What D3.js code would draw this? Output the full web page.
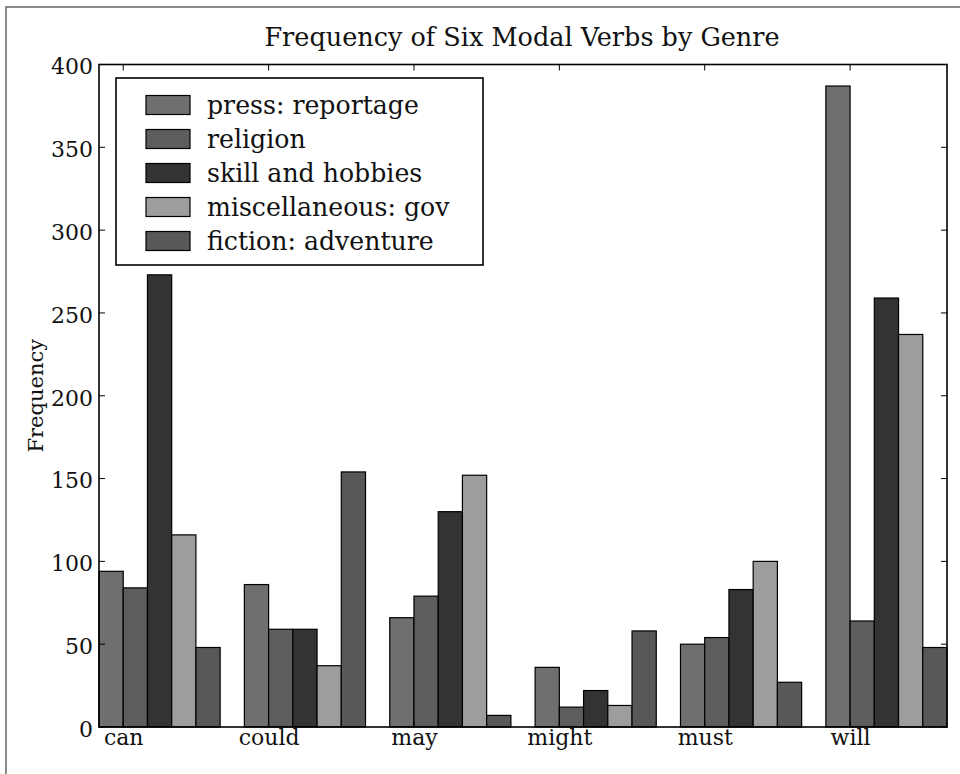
<!DOCTYPE html>
<html>
<head>
<meta charset="utf-8">
<script src="https://cdn.jsdelivr.net/npm/d3@7"></script>
<style>
  html, body { margin: 0; padding: 0; background: #fff; }
  svg { display: block; }
  text { font-family: "DejaVu Serif", serif; fill: #111; }
</style>
</head>
<body>
<div id="chart"></div>
<script>
// ---- data ----
const modals = ["can", "could", "may", "might", "must", "will"];
const genres = ["press: reportage", "religion", "skill and hobbies", "miscellaneous: gov", "fiction: adventure"];
const press    = [94, 86, 66, 36, 50, 387];
const religion = [84, 59, 79, 12, 54, 64];
const hobbies  = [273, 59, 130, 22, 83, 259];
const gov      = [116, 37, 152, 13, 100, 237];
const fiction  = [48, 154, 7, 58, 27, 48];
const yTicks   = [0, 50, 100, 150, 200, 250, 300, 350, 400];
const title    = "Frequency of Six Modal Verbs by Genre";
const yLabel   = "Frequency";

const series = [press, religion, hobbies, gov, fiction];
const colors = ["#6f6f6f", "#5d5d5d", "#333333", "#9d9d9d", "#585858"];

// ---- layout ----
const W = 960, H = 774;
const pLeft = 99, pRight = 947, pTop = 64.5, pBottom = 727;
const barW = 1 / (genres.length + 1);

const svg = d3.select("#chart").append("svg").attr("width", W).attr("height", H);

// figure border
svg.append("rect").attr("x", 6).attr("y", 7).attr("width", W + 10).attr("height", H + 10)
  .attr("fill", "none").attr("stroke", "#666").attr("stroke-width", 1.5);

const x = d3.scaleLinear().domain([0, modals.length - 1 + genres.length * barW]).range([pLeft, pRight]);
const y = d3.scaleLinear().domain([0, 400]).range([pBottom, pTop]);

// bars
series.forEach((vals, j) => {
  svg.append("g").selectAll("rect").data(vals).join("rect")
    .attr("x", (d, i) => x(i + j * barW))
    .attr("width", x(barW) - x(0))
    .attr("y", d => y(d))
    .attr("height", d => y(0) - y(d))
    .attr("fill", colors[j])
    .attr("stroke", "#000").attr("stroke-width", 1.2);
});

// axes (ticks inward)
const tickLen = 6;
const yAxisL = d3.axisLeft(y).tickValues(yTicks).tickSize(0).tickPadding(6);
const gL = svg.append("g").attr("transform", `translate(${pLeft},0)`).call(yAxisL);
gL.select(".domain").remove();
gL.selectAll("text").style("font-size", "22px").style("font-family", "DejaVu Serif").attr("dy", "0.42em");

const tickPos = modals.map((m, i) => i + barW);
const gT = svg.append("g");
gT.selectAll("line.yl").data(yTicks).join("line").attr("class", "yl")
  .attr("x1", pLeft).attr("x2", pLeft + tickLen).attr("y1", d => y(d)).attr("y2", d => y(d))
  .attr("stroke", "#000").attr("stroke-width", 1);
gT.selectAll("line.yr").data(yTicks).join("line").attr("class", "yr")
  .attr("x1", pRight).attr("x2", pRight - tickLen).attr("y1", d => y(d)).attr("y2", d => y(d))
  .attr("stroke", "#000").attr("stroke-width", 1);
gT.selectAll("line.xt").data(tickPos).join("line").attr("class", "xt")
  .attr("x1", d => x(d)).attr("x2", d => x(d)).attr("y1", pTop).attr("y2", pTop + tickLen)
  .attr("stroke", "#000").attr("stroke-width", 1);
gT.selectAll("line.xb").data(tickPos).join("line").attr("class", "xb")
  .attr("x1", d => x(d)).attr("x2", d => x(d)).attr("y1", pBottom).attr("y2", pBottom - tickLen)
  .attr("stroke", "#000").attr("stroke-width", 1);

// x tick labels
const xAxis = d3.axisBottom(x).tickValues(tickPos).tickFormat((d, i) => modals[i]).tickSize(0).tickPadding(6);
const gB = svg.append("g").attr("transform", `translate(0,${pBottom})`).call(xAxis);
gB.select(".domain").remove();
gB.selectAll("text").style("font-size", "22px").style("font-family", "DejaVu Serif").attr("dy", "0.55em");

// spines
svg.append("rect").attr("x", pLeft).attr("y", pTop).attr("width", pRight - pLeft).attr("height", pBottom - pTop)
  .attr("fill", "none").attr("stroke", "#000").attr("stroke-width", 1.6);

// title
svg.append("text").attr("x", (pLeft + pRight) / 2 - 1).attr("y", 46).attr("text-anchor", "middle")
  .style("font-size", "25.5px").text(title);

// y label
svg.append("text").attr("transform", `translate(43,${(pTop + pBottom) / 2}) rotate(-90)`)
  .attr("text-anchor", "middle").style("font-size", "21px").text(yLabel);

// legend
const lg = svg.append("g");
lg.append("rect").attr("x", 116).attr("y", 78).attr("width", 367).attr("height", 187)
  .attr("fill", "#fff").attr("stroke", "#000").attr("stroke-width", 1.6);
genres.forEach((g, j) => {
  const cy = 105 + j * 34;
  lg.append("rect").attr("x", 146).attr("y", cy - 9.5).attr("width", 44).attr("height", 19)
    .attr("fill", colors[j]).attr("stroke", "#000").attr("stroke-width", 1.2);
  lg.append("text").attr("x", 207).attr("y", cy).attr("dy", "0.34em")
    .style("font-size", "25.2px").text(g);
});
</script>
</body>
</html>
